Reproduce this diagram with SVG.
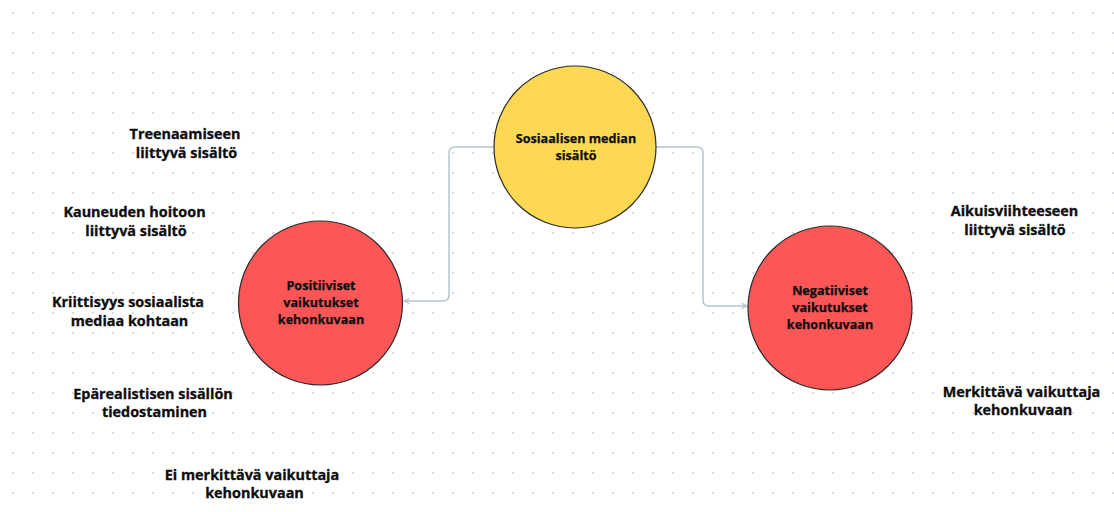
<svg xmlns="http://www.w3.org/2000/svg" width="1114" height="512" viewBox="0 0 1114 512">
  <defs>
    <pattern id="dots" x="12" y="12" width="20" height="20" patternUnits="userSpaceOnUse">
      <rect x="0" y="0" width="2" height="2" fill="#d9dce6"/>
    </pattern>
    <marker id="arrow" viewBox="0 0 10 10" refX="9" refY="5" markerWidth="7" markerHeight="7" markerUnits="userSpaceOnUse" orient="auto">
      <path d="M1,1 L9,5 L1,9" fill="none" stroke="#b7c3cc" stroke-width="1.6"/>
    </marker>
  </defs>
  <style>
    .lbl { font-family: "Open Sans", "Noto Sans", "Liberation Sans", sans-serif; font-weight: 700; font-size: 14.4px; fill: #0d0d0d; stroke: #0d0d0d; stroke-width: 0.3; text-anchor: middle; }
    .in { font-family: "Open Sans", "Noto Sans", "Liberation Sans", sans-serif; font-weight: 700; font-size: 12.6px; fill: #0d0d0d; stroke: #0d0d0d; stroke-width: 0.25; text-anchor: middle; }
    .node { stroke: #2b2b2b; stroke-width: 1.2; }
    .edge { fill: none; stroke: #b7c3cc; stroke-width: 1.5; }
  </style>

  <rect width="1114" height="512" fill="#ffffff"/>
  <rect width="1114" height="512" fill="url(#dots)"/>

  <!-- connectors -->
  <g id="connectors">
    <path class="edge" d="M494,147 H455 Q449,147 449,153 V295 Q449,301 443,301 H404" marker-end="url(#arrow)"/>
    <path class="edge" d="M656,147 H697 Q703,147 703,153 V300 Q703,306 709,306 H747" marker-end="url(#arrow)"/>
  </g>

  <g id="node-somesisalto">
    <circle class="node" cx="575" cy="147" r="81" fill="#fdd853"/>
    <text class="in" x="576" y="143">Sosiaalisen median</text>
    <text class="in" x="576" y="160">sisältö</text>
  </g>

  <g id="node-positiiviset">
    <circle class="node" cx="320.5" cy="303" r="82" fill="#fd5656"/>
    <text class="in" x="321" y="290">Positiiviset</text>
    <text class="in" x="321" y="307">vaikutukset</text>
    <text class="in" x="321" y="324">kehonkuvaan</text>
  </g>

  <g id="node-negatiiviset">
    <circle class="node" cx="830" cy="308" r="82" fill="#fd5656"/>
    <text class="in" x="830" y="295">Negatiiviset</text>
    <text class="in" x="830" y="312">vaikutukset</text>
    <text class="in" x="830" y="329">kehonkuvaan</text>
  </g>

  <g id="label-treenaaminen">
    <text class="lbl" x="185" y="138.5">Treenaamiseen</text>
    <text class="lbl" x="186.5" y="157.5">liittyvä sisältö</text>
  </g>
  <g id="label-kauneus">
    <text class="lbl" x="134.5" y="216.5">Kauneuden hoitoon</text>
    <text class="lbl" x="136" y="235.5">liittyvä sisältö</text>
  </g>
  <g id="label-kriittisyys">
    <text class="lbl" x="128" y="306.5">Kriittisyys sosiaalista</text>
    <text class="lbl" x="129.5" y="325.5">mediaa kohtaan</text>
  </g>
  <g id="label-eparealistinen">
    <text class="lbl" x="153" y="398.5">Epärealistisen sisällön</text>
    <text class="lbl" x="154.5" y="417">tiedostaminen</text>
  </g>
  <g id="label-ei-merkittava">
    <text class="lbl" x="252" y="479.5">Ei merkittävä vaikuttaja</text>
    <text class="lbl" x="254.5" y="497.5">kehonkuvaan</text>
  </g>
  <g id="label-aikuisviihde">
    <text class="lbl" x="1014.5" y="216">Aikuisviihteeseen</text>
    <text class="lbl" x="1015" y="234.5">liittyvä sisältö</text>
  </g>
  <g id="label-merkittava">
    <text class="lbl" x="1021.5" y="396.5">Merkittävä vaikuttaja</text>
    <text class="lbl" x="1023" y="415">kehonkuvaan</text>
  </g>
</svg>
